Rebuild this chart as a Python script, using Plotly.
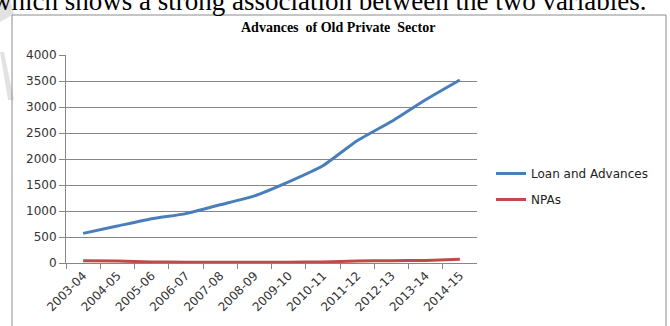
import plotly.graph_objects as go

W, H = 670, 326

years = ["2003-04", "2004-05", "2005-06", "2006-07", "2007-08", "2008-09",
         "2009-10", "2010-11", "2011-12", "2012-13", "2013-14", "2014-15"]
loans = [570, 710, 850, 950, 1120, 1290, 1560, 1870, 2350, 2720, 3140, 3520]
npas = [45, 40, 20, 15, 15, 15, 15, 20, 40, 45, 50, 70]
y_ticks = [0, 500, 1000, 1500, 2000, 2500, 3000, 3500, 4000]

title_text = "<b>Advances  of Old Private  Sector</b>"
top_text = "which shows a strong association between the two variables."

def px_x(p):
    return p / W

def px_y(p):
    return 1 - p / H

grid = "#868686"
font_axis = dict(family="DejaVu Sans", size=12, color="#333333")

fig = go.Figure()
fig.add_trace(go.Scatter(
    x=years, y=loans, mode="lines", name="Loan and Advances",
    line=dict(color="#4a7ebb", width=3, shape="spline", smoothing=0.5),
    legendgroup="a"))
fig.add_trace(go.Scatter(
    x=years, y=npas, mode="lines", name="NPAs",
    line=dict(color="#be4b48", width=3, shape="spline", smoothing=0.5),
    legendgroup="b"))

fig.update_layout(
    width=W, height=H,
    margin=dict(l=0, r=0, t=0, b=0, autoexpand=False),
    paper_bgcolor="white", plot_bgcolor="white",
    showlegend=True,
    legend=dict(x=px_x(491), y=px_y(159), xanchor="left", yanchor="top",
                font=dict(family="DejaVu Sans", size=12, color="#222222"),
                tracegroupgap=7, bgcolor="rgba(0,0,0,0)"),
    xaxis=dict(domain=[px_x(66), px_x(477)], type="category", automargin=False,
               range=[-0.5, 11.5], showgrid=False, showline=True,
               linecolor=grid, linewidth=1, ticks="outside", tickson="boundaries",
               ticklen=5, tickcolor=grid, tickangle=-45, tickfont=font_axis,
               zeroline=False),
    yaxis=dict(domain=[px_y(263), px_y(55)], range=[0, 4000], automargin=False,
               tickvals=y_ticks, showgrid=True, gridcolor=grid, gridwidth=1,
               showline=True, linecolor=grid, linewidth=1, ticks="outside",
               ticklen=6, tickcolor=grid, tickfont=font_axis, zeroline=False),
    shapes=[
        # watermark fragments
        dict(type="path", xref="paper", yref="paper", layer="below",
             path=f"M {px_x(0)} {px_y(52)} L {px_x(4)} {px_y(52)} L {px_x(14)} {px_y(100)} L {px_x(8)} {px_y(100)} Z",
             fillcolor="#e2e2e2", line=dict(width=0)),
        dict(type="path", xref="paper", yref="paper", layer="below",
             path=f"M {px_x(0)} {px_y(0)} L {px_x(10)} {px_y(0)} L {px_x(14)} {px_y(14)} L {px_x(0)} {px_y(22)} Z",
             fillcolor="#e2e2e2", line=dict(width=0)),
        # chart border
        dict(type="rect", xref="paper", yref="paper", layer="below",
             x0=px_x(12), x1=px_x(666), y0=px_y(340), y1=px_y(15),
             line=dict(color="#8c8c8c", width=1), fillcolor="rgba(0,0,0,0)"),
    ],
    annotations=[
        dict(text=title_text, xref="paper", yref="paper",
             x=px_x(338), y=px_y(28), xanchor="center", yanchor="middle",
             showarrow=False,
             font=dict(family="Liberation Serif", size=14, color="#000000")),
        dict(text=top_text, xref="paper", yref="paper",
             x=px_x(649), y=px_y(18), xanchor="right", yanchor="bottom",
             showarrow=False,
             font=dict(family="Liberation Serif", size=27, color="#000000")),
    ],
)

fig.write_html("out.html",
               config={"displayModeBar": False},
               post_script="document.body.style.margin='0';"
                           "document.body.style.overflow='hidden';")
